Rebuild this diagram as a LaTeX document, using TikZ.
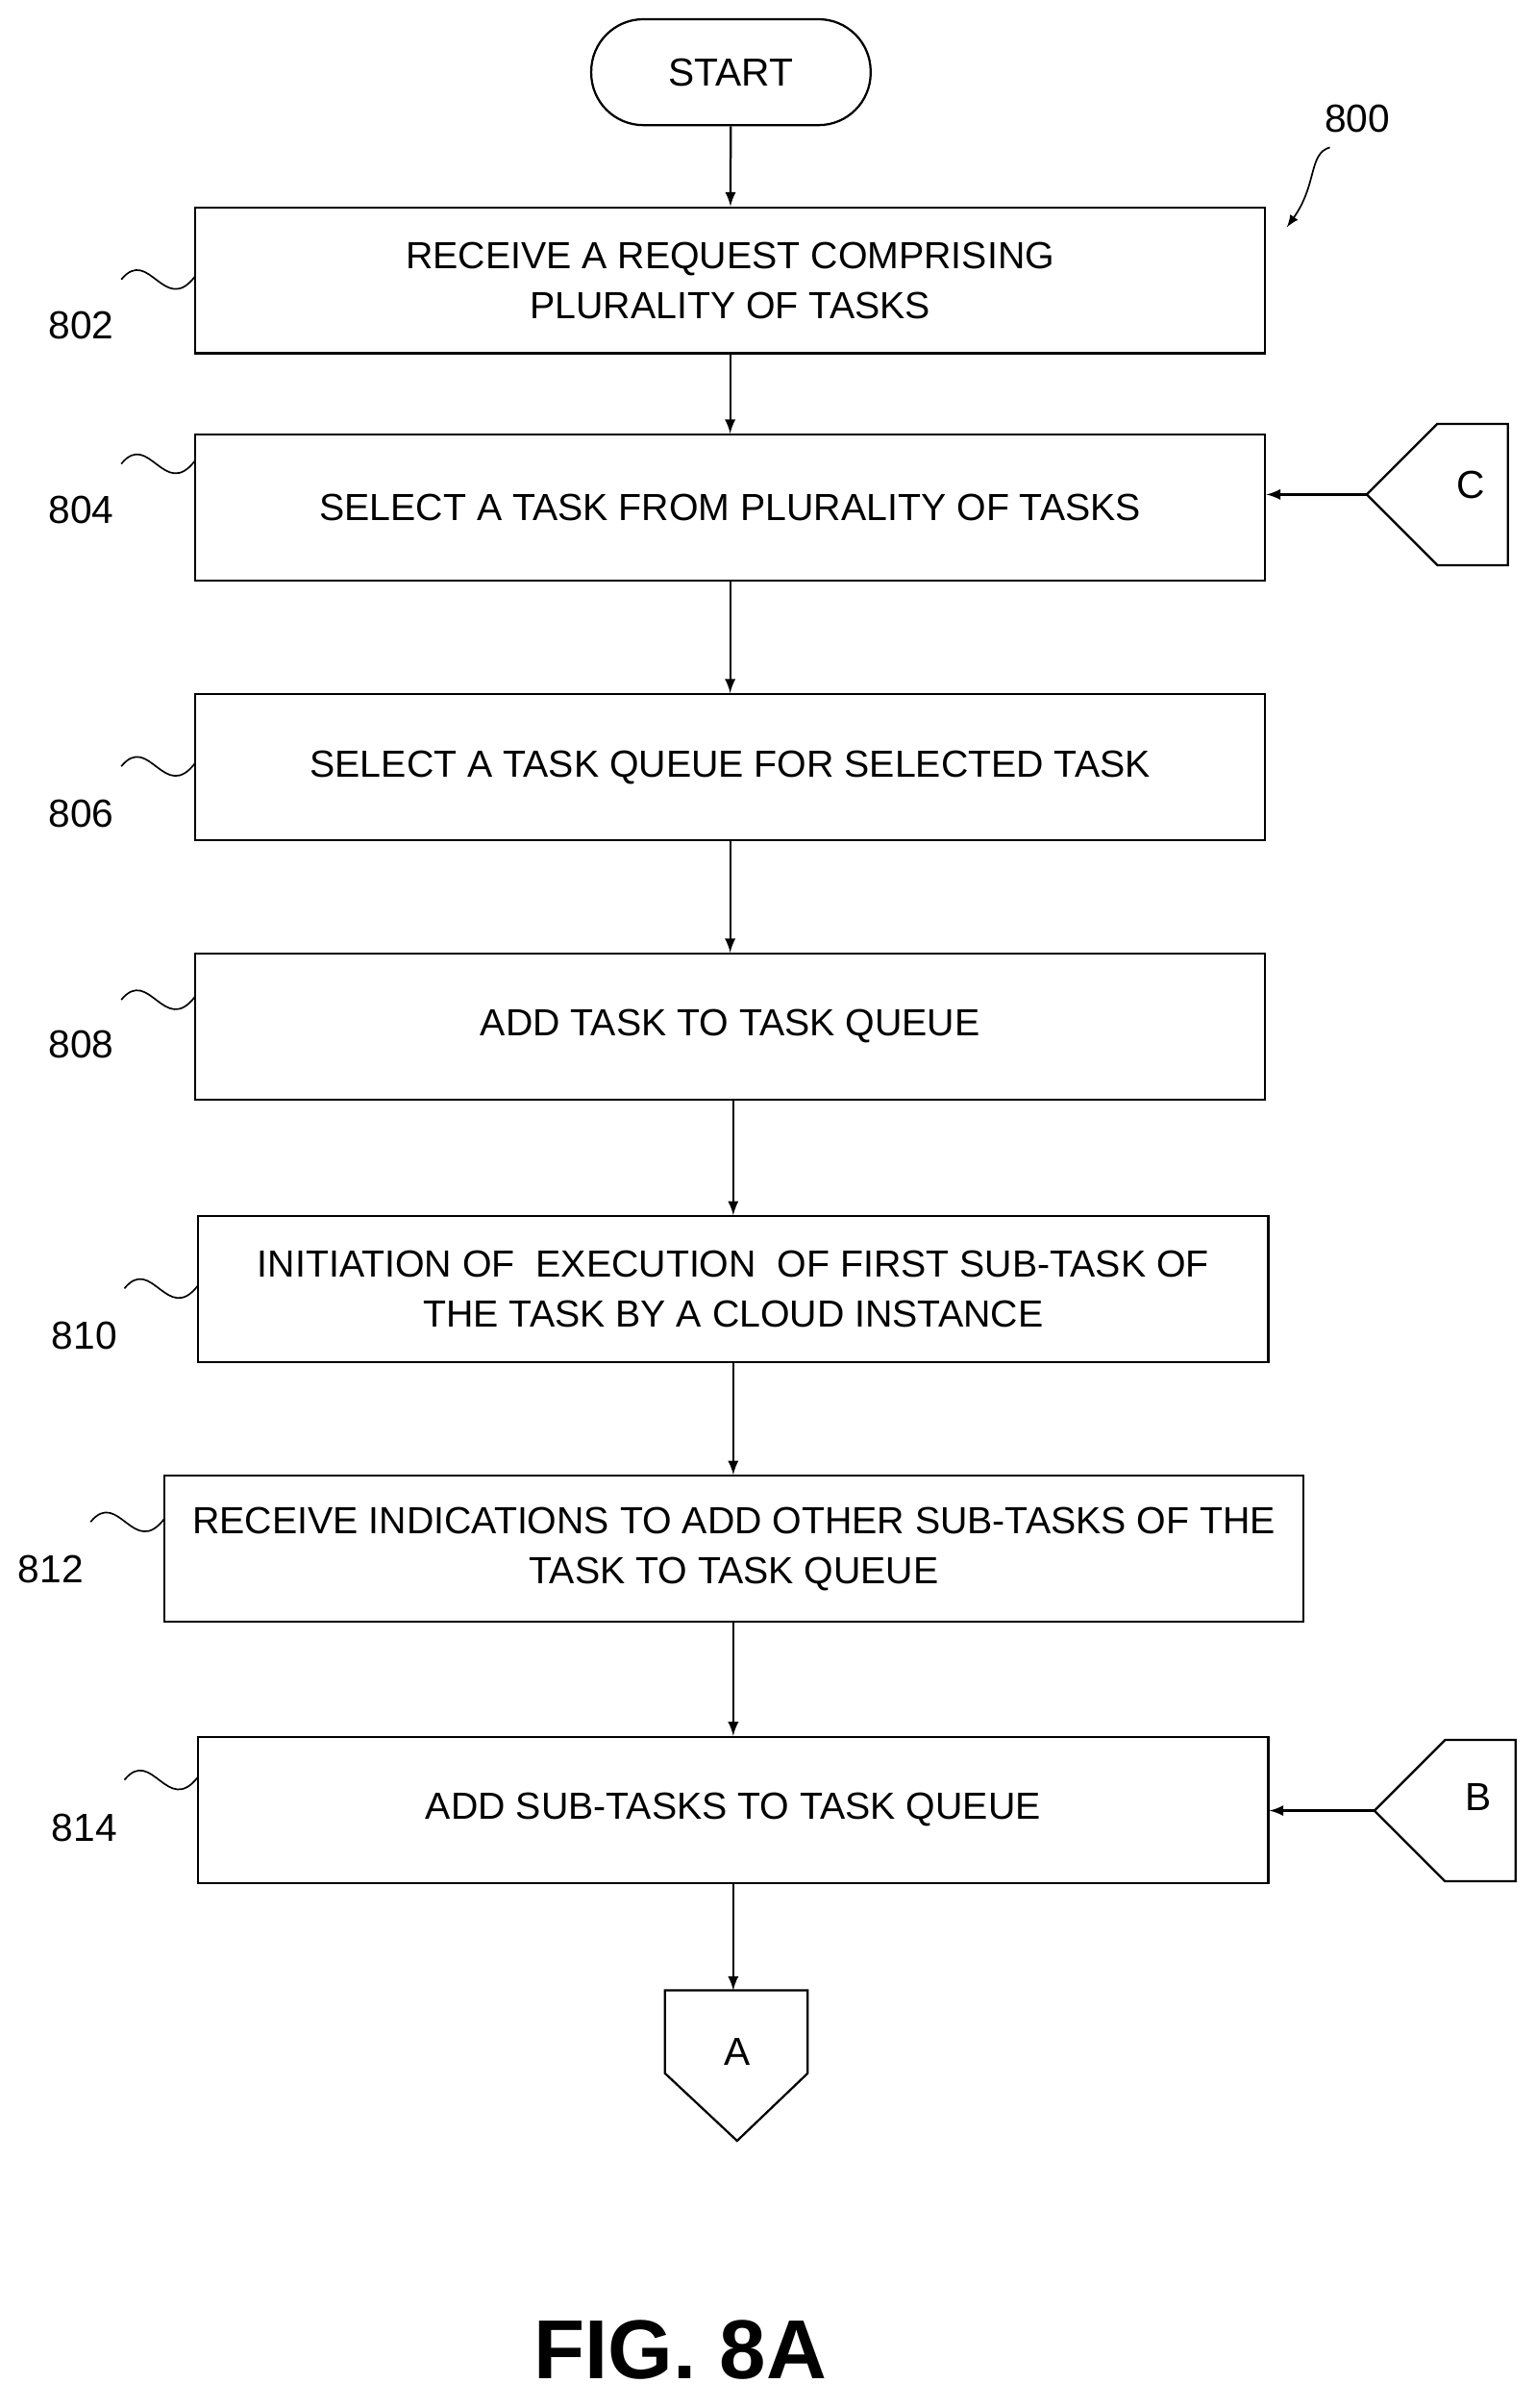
\documentclass[tikz,border=0pt]{standalone}
\usepackage{fontspec}
\setmainfont{Liberation Sans}
\usetikzlibrary{arrows,positioning}
\tikzset{
  taskbox/.style={draw, thick, inner xsep=0pt, minimum width=13.94cm, minimum height=1.9cm, align=center, font=\fontsize{14}{18.5}\selectfont},
  lbl/.style={font=\fontsize{14.5}{18}\selectfont},
  flow/.style={thick,->,>=latex}
}
\begin{document}
\begin{tikzpicture}[x=0.02cm,y=-0.02cm]
\useasboundingbox (0,0) rectangle (1000,1568);
\node[draw, thick, rounded corners=0.68cm, minimum width=3.64cm, minimum height=1.38cm, font=\fontsize{14.5}{19}\selectfont] (start) at (476,47) {START};
\node[taskbox] (s802) at (475.5,182.5) {RECEIVE A REQUEST COMPRISING\\PLURALITY OF TASKS};
\node[taskbox] (s804) at (475.5,330.5) {SELECT A TASK FROM PLURALITY OF TASKS};
\node[taskbox] (s806) at (475.5,499.5) {SELECT A TASK QUEUE FOR SELECTED TASK};
\node[taskbox] (s808) at (475.5,668.5) {ADD TASK TO TASK QUEUE};
\node[taskbox] (s810) at (477.5,839.5) {INITIATION OF\ \ EXECUTION\ \ OF FIRST SUB-TASK OF\\THE TASK BY A CLOUD INSTANCE};
\node[taskbox, minimum width=14.84cm] (s812) at (478,1008.5) {RECEIVE INDICATIONS TO ADD OTHER SUB-TASKS OF THE\\TASK TO TASK QUEUE};
\node[taskbox] (s814) at (477.5,1178.5) {ADD SUB-TASKS TO TASK QUEUE};
% off-page connectors
\draw[thick] (433,1296) -- (526,1296) -- (526,1350) -- (480,1394) -- (433,1350) -- cycle;
\node[lbl] (conA) at (480,1336) {A};
\coordinate (tipA) at (480,1296);
\draw[thick] (890,322) -- (936,276) -- (982,276) -- (982,368) -- (936,368) -- cycle;
\node[lbl] (conC) at (958,316) {C};
\coordinate (tipC) at (890,322);
\draw[thick] (895,1179) -- (941,1133) -- (987,1133) -- (987,1225) -- (941,1225) -- cycle;
\node[lbl] (conB) at (963,1170) {B};
\coordinate (tipB) at (895,1179);
% flow
\draw[flow] (start) -- (s802);
\draw[flow] (s802) -- (s804);
\draw[flow] (s804) -- (s806);
\draw[flow] (s806) -- (s808);
\draw[flow] (s808.south -| s810.north) -- (s810);
\draw[flow] (s810) -- (s810.south |- s812.north);
\draw[flow] (s812.south -| s814.north) -- (s814);
\draw[flow] (s814) -- (s814.south |- tipA);
\draw[flow] (tipC) -- (tipC -| s804.east);
\draw[flow] (tipB) -- (tipB -| s814.east);
% reference numerals
\foreach \n/\lx/\ly/\bx/\by in {802/53/212/127/188, 804/53/332/127/308, 806/53/530/127/505, 808/53/680/127/657, 810/55/870/129/845, 812/33/1022/107/997, 814/55/1190/129/1165}{
  \node[lbl] (n\n) at (\lx,\ly) {\n};
  \draw[semithick] (\bx-48,\by-6) .. controls (\bx-30,\by-28) and (\bx-20,\by+18) .. (\bx,\by-8);
}
\node[lbl] (n800) at (884,77) {800};
\draw[semithick,->,>=latex] (866,96) .. controls (852,100) and (858,120) .. (838,148);
\node[font=\bfseries\fontsize{31}{36}\selectfont] (fig) at (443,1530) {FIG. 8A};
\end{tikzpicture}
\end{document}
